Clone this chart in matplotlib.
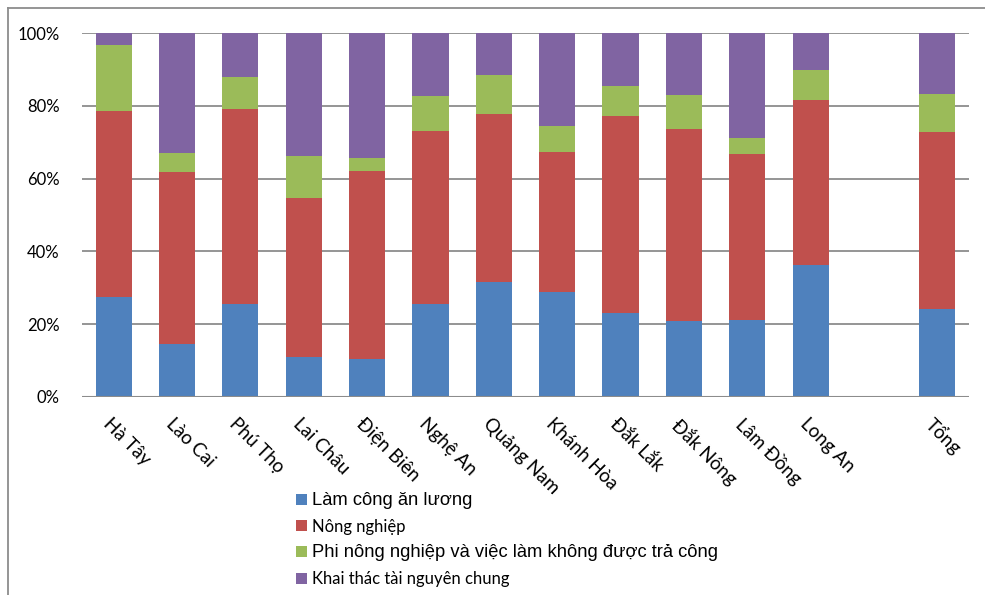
import matplotlib
matplotlib.use("Agg")
import matplotlib.pyplot as plt
from matplotlib.patches import Patch
from matplotlib.lines import Line2D
import matplotlib.transforms as mtransforms
import numpy as np

categories = ["Hà Tây", "Lào Cai", "Phú Thọ", "Lai Châu", "Điện Biên", "Nghệ An",
              "Quảng Nam", "Khánh Hòa", "Đắk Lắk", "Đắk Nông", "Lâm Đồng", "Long An", "Tổng"]
lam_cong = [27.3, 14.4, 25.5, 10.8, 10.3, 25.6, 31.5, 28.8, 23.0, 20.7, 21.2, 36.3, 24.0]
nong_nghiep = [51.4, 47.4, 53.8, 44.0, 51.8, 47.4, 46.2, 38.4, 54.3, 52.9, 45.7, 45.4, 48.9]
phi_nong_nghiep = [18.1, 5.3, 8.7, 11.3, 3.7, 9.7, 10.8, 7.4, 8.2, 9.5, 4.3, 8.2, 10.3]
khai_thac = [3.2, 32.9, 12.0, 33.9, 34.2, 17.3, 11.5, 25.4, 14.5, 16.9, 28.8, 10.1, 16.8]
series_names = ["Làm công ăn lương", "Nông nghiệp",
                "Phi nông nghiệp và việc làm không được trả công", "Khai thác tài nguyên chung"]
colors = ["#4F81BD", "#C0504D", "#9BBB59", "#8064A2"]
yticks = [0, 20, 40, 60, 80, 100]

plt.rcParams['font.family'] = ['Lato', 'DejaVu Sans']

fig = plt.figure(figsize=(9.85, 5.95), dpi=100)
ax = fig.add_axes([82/985, 1-396.7/595, (969-82)/985, (396.7-33.3)/595])

pos = np.array(list(range(12)) + [13])
series = [lam_cong, nong_nghiep, phi_nong_nghiep, khai_thac]
bottom = np.zeros(len(categories))
for vals, c in zip(series, colors):
    v = np.array(vals)
    ax.bar(pos, v, 0.57, bottom=bottom, color=c, zorder=3, linewidth=0)
    bottom += v

ax.set_xlim(-0.5, 13.5)
ax.set_ylim(0, 100)
ax.set_yticks(yticks)
ax.set_yticklabels([f"{t}%" for t in yticks], fontsize=12)
ax.yaxis.grid(True, color="#8c8c8c", linewidth=1.3, zorder=0)
ax.tick_params(axis='y', length=0, pad=16)
ax.set_xticks(pos)
ax.set_xticklabels(categories, rotation=-45, ha='left', va='top',
                   rotation_mode='anchor', fontsize=13.5)
ax.tick_params(axis='x', length=0, pad=13)
for s in ax.spines.values():
    s.set_visible(False)
ax.axhline(0, color="#8c8c8c", linewidth=1.5, zorder=4)

offset = mtransforms.ScaledTranslation(-2/100, 0, fig.dpi_scale_trans)
for lbl in ax.get_xticklabels():
    lbl.set_transform(lbl.get_transform() + offset)

handles = [Patch(facecolor=c, edgecolor='none') for c in colors]
leg = fig.legend(handles, series_names, loc='upper left',
                 bbox_to_anchor=(296/985, 1-492/595), frameon=False,
                 handlelength=0.65, handleheight=0.65, handletextpad=0.3,
                 labelspacing=0.58, fontsize=12, borderaxespad=0, borderpad=0)
for i in (0, 2):
    t = leg.get_texts()[i]
    t.set_family(['Liberation Sans', 'DejaVu Sans'])
    t.set_fontsize(13.2)

fig.add_artist(Line2D([8/985, 8/985], [0, 1-8/595], color="#8c8c8c", linewidth=1.3))
fig.add_artist(Line2D([8/985, 1], [1-8/595, 1-8/595], color="#8c8c8c", linewidth=1.3))

fig.savefig("out.png", dpi=100)
